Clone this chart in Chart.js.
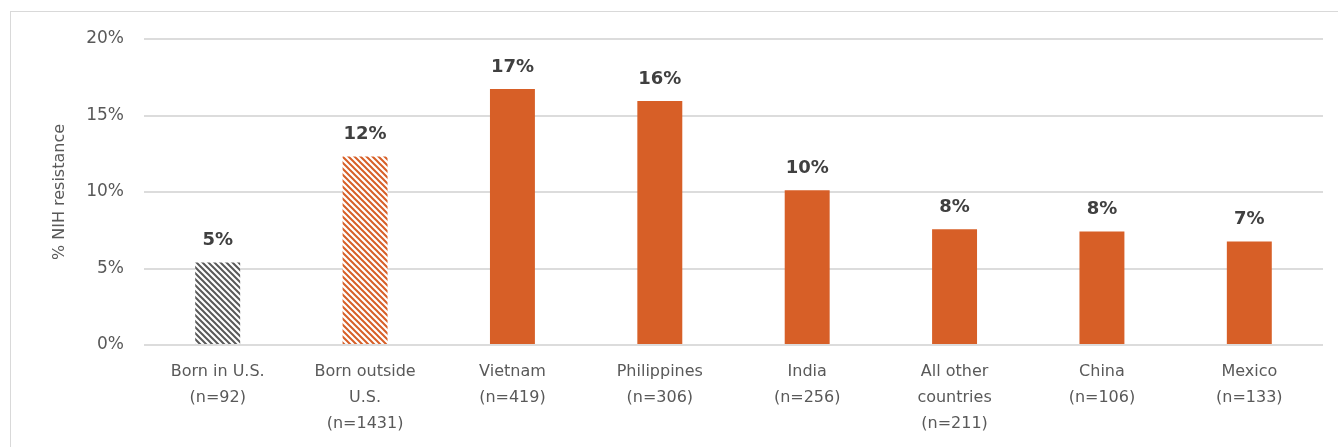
<!DOCTYPE html>
<html>
<head>
<meta charset="utf-8">
<script src="https://cdn.jsdelivr.net/npm/chart.js@4/dist/chart.umd.min.js"></script>
<style>
  html, body { margin: 0; padding: 0; background: #fff; }
  #wrap { position: absolute; left: 0; top: 0; width: 1338px; height: 447px; }
  #frame { position: absolute; left: 10px; top: 11px; width: 1340px; height: 450px; border: 1.5px solid #d9d9d9; box-sizing: border-box; }
</style>
</head>
<body>
<div id="frame"></div>
<div id="wrap"><canvas id="c" width="1338" height="447"></canvas></div>
<script>
const categories = [
  ["Born in U.S.", "(n=92)"],
  ["Born outside", "U.S.", "(n=1431)"],
  ["Vietnam", "(n=419)"],
  ["Philippines", "(n=306)"],
  ["India", "(n=256)"],
  ["All other", "countries", "(n=211)"],
  ["China", "(n=106)"],
  ["Mexico", "(n=133)"]
];
const values = [5.39, 12.32, 16.73, 15.95, 10.12, 7.57, 7.42, 6.76];
const valueLabels = ["5%", "12%", "17%", "16%", "10%", "8%", "8%", "7%"];
const yTicks = [0, 5, 10, 15, 20];

const ORANGE = "#D75F27";
const GRAY = "#595959";

function hatch(color) {
  const s = 6;
  const cv = document.createElement("canvas");
  cv.width = s; cv.height = s;
  const g = cv.getContext("2d");
  g.fillStyle = "#fff";
  g.fillRect(0, 0, s, s);
  g.strokeStyle = color;
  g.lineWidth = 2;
  g.beginPath();
  g.moveTo(-1, -1); g.lineTo(s + 1, s + 1);
  g.moveTo(-1, s - 1); g.lineTo(1, s + 1);
  g.moveTo(s - 1, -1); g.lineTo(s + 1, 1);
  g.stroke();
  return g.createPattern(cv, "repeat");
}

const ctx = document.getElementById("c").getContext("2d");
const colors = [hatch(GRAY), hatch(ORANGE), ORANGE, ORANGE, ORANGE, ORANGE, ORANGE, ORANGE];

const labelPlugin = {
  id: "valueLabels",
  afterDatasetsDraw(chart) {
    const meta = chart.getDatasetMeta(0);
    const c = chart.ctx;
    c.save();
    c.font = "bold 18px 'DejaVu Sans'";
    c.fillStyle = "#404040";
    c.textAlign = "center";
    c.textBaseline = "middle";
    meta.data.forEach((bar, i) => {
      c.fillText(valueLabels[i], bar.x, bar.y - 22);
    });
    c.restore();
  }
};

new Chart(ctx, {
  type: "bar",
  data: {
    labels: categories,
    datasets: [{
      data: values,
      backgroundColor: colors,
      borderWidth: 0,
      barPercentage: 0.61,
      categoryPercentage: 0.5
    }]
  },
  options: {
    responsive: false,
    animation: false,
    devicePixelRatio: 1,
    layout: { padding: { left: 40, right: 15, top: 39, bottom: 0 } },
    plugins: { legend: { display: false }, tooltip: { enabled: false } },
    scales: {
      x: {
        grid: { display: false },
        border: { display: false },
        ticks: {
          color: GRAY,
          font: { family: "DejaVu Sans", size: 16, lineHeight: 1.62 },
          padding: 6,
          maxRotation: 0,
          autoSkip: false
        },
        afterFit(s) { s.height = 102; }
      },
      y: {
        min: 0,
        max: 20,
        afterBuildTicks(s) { s.ticks = yTicks.map(v => ({ value: v })); },
        grid: { color: "#dcdcdc", lineWidth: 2, drawTicks: false },
        border: { display: false },
        ticks: {
          color: GRAY,
          font: { family: "DejaVu Sans", size: 17 },
          padding: 20,
          callback: v => v + "%"
        },
        title: {
          display: true,
          text: "% NIH resistance",
          color: GRAY,
          font: { family: "DejaVu Sans", size: 16 },
          padding: { top: 10, bottom: 0 }
        },
        afterFit(s) { s.width = 104; }
      }
    }
  },
  plugins: [labelPlugin]
});
</script>
</body>
</html>
